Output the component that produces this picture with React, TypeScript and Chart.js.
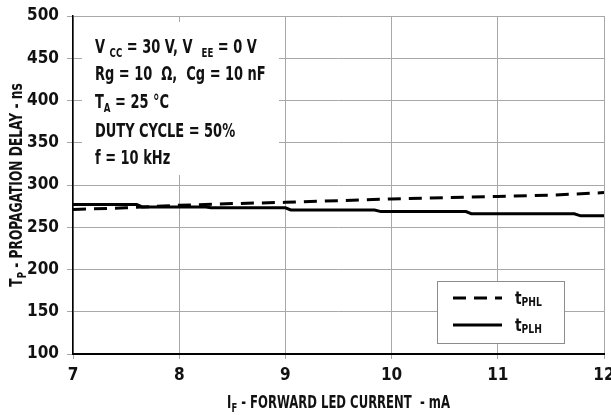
import React, { useEffect, useRef } from "react";
import { Chart, registerables } from "chart.js";

Chart.register(...registerables);

// ---- data ----
const phlCurrent = [7, 7.5, 8, 8.5, 9, 9.5, 10, 10.5, 11, 11.5, 12];
const tPHL = [271, 273, 276, 278, 279.5, 281.5, 283.5, 285, 286.5, 288, 291];

const plhCurrent = [7, 7.6, 7.65, 8.25, 8.3, 9.0, 9.05, 9.84, 9.9, 10.7, 10.75, 11.72, 11.78, 12];
const tPLH = [277, 277, 274, 274, 273, 273, 270.5, 270.5, 268.5, 268.5, 266, 266, 263.5, 263.5];

const xTicks = [7, 8, 9, 10, 11, 12];
const yTicks = [100, 150, 200, 250, 300, 350, 400, 450, 500];

const seriesNames = ["t", "t"];
const seriesSubs = ["PHL", "PLH"];

const conditionLines: { t: string; sub?: boolean }[][] = [
  [{ t: "V " }, { t: "CC", sub: true }, { t: " = 30 V, V  " }, { t: "EE", sub: true }, { t: " = 0 V" }],
  [{ t: "Rg = 10  Ω,  Cg = 10 nF" }],
  [{ t: "T" }, { t: "A", sub: true }, { t: " = 25 °C" }],
  [{ t: "DUTY CYCLE = 50%" }],
  [{ t: "f = 10 kHz" }],
];
const xTitle = [{ t: "I" }, { t: "F", sub: true }, { t: " - FORWARD LED CURRENT  - mA" }];
const yTitle = [{ t: "T" }, { t: "P", sub: true }, { t: " - PROPAGATION DELAY - ns" }];

const FONT = "'Liberation Sans Narrow', 'DejaVu Sans Condensed', 'Arial Narrow', sans-serif";

function drawRich(
  ctx: CanvasRenderingContext2D,
  x: number,
  baseline: number,
  parts: { t: string; sub?: boolean }[],
  size: number,
  subSize: number,
  subDrop: number,
  align: "left" | "center",
  sx: number
) {
  const mainFont = `bold ${size}px ${FONT}`;
  const subFont = `bold ${subSize}px ${FONT}`;
  let total = 0;
  for (const p of parts) {
    ctx.font = p.sub ? subFont : mainFont;
    total += ctx.measureText(p.t).width * sx;
  }
  let cx = align === "center" ? x - total / 2 : x;
  ctx.textAlign = "left";
  ctx.textBaseline = "alphabetic";
  for (const p of parts) {
    ctx.font = p.sub ? subFont : mainFont;
    ctx.save();
    ctx.translate(cx, baseline + (p.sub ? subDrop : 0));
    ctx.scale(sx, 1);
    ctx.fillText(p.t, 0, 0);
    ctx.restore();
    cx += ctx.measureText(p.t).width * sx;
  }
}

const decorPlugin = {
  id: "decor",
  afterDraw(chart: any) {
    const ctx: CanvasRenderingContext2D = chart.ctx;
    const area = chart.chartArea;
    ctx.save();

    // conditions box
    ctx.fillStyle = "#ffffff";
    ctx.fillRect(area.left + 9, area.top + 6, 197, 153);
    ctx.fillStyle = "#111";
    const baselines = [53, 80, 108, 137, 164];
    conditionLines.forEach((line, i) => {
      drawRich(ctx, area.left + 22, baselines[i], line, 19.5, 13, 4, "left", 0.74);
    });

    // legend box
    const lx = 437, ly = 281, lw = 127, lh = 62;
    ctx.fillStyle = "#ffffff";
    ctx.fillRect(lx, ly, lw, lh);
    ctx.strokeStyle = "#8c8c8c";
    ctx.lineWidth = 1;
    ctx.strokeRect(lx + 0.5, ly + 0.5, lw, lh);
    const rows = [298, 325];
    rows.forEach((ry, i) => {
      ctx.strokeStyle = "#000";
      ctx.lineWidth = 3;
      ctx.setLineDash(i === 0 ? [13, 8] : []);
      ctx.beginPath();
      ctx.moveTo(453, ry);
      ctx.lineTo(502, ry);
      ctx.stroke();
      ctx.setLineDash([]);
      ctx.fillStyle = "#111";
      drawRich(ctx, 515, ry + 6, [{ t: seriesNames[i] }, { t: seriesSubs[i], sub: true }], 18, 12, 2, "left", 0.85);
    });

    // axis titles
    drawRich(ctx, (area.left + area.right) / 2, 408, xTitle, 18, 13, 4, "center", 0.72);
    ctx.translate(16, (area.top + area.bottom) / 2);
    ctx.rotate(-Math.PI / 2);
    drawRich(ctx, 0, 6, yTitle, 17, 12, 4, "center", 0.8);
    ctx.restore();
  },
};

export default function App() {
  const ref = useRef<HTMLCanvasElement>(null);
  useEffect(() => {
    document.body.style.margin = "0";
    const chart = new Chart(ref.current!, {
      type: "line",
      data: {
        datasets: [
          {
            label: "tPHL",
            data: phlCurrent.map((x, i) => ({ x, y: tPHL[i] })),
            borderColor: "#000",
            borderWidth: 3,
            borderDash: [13, 8],
            pointRadius: 0,
            tension: 0,
          },
          {
            label: "tPLH",
            data: plhCurrent.map((x, i) => ({ x, y: tPLH[i] })),
            borderColor: "#000",
            borderWidth: 3,
            pointRadius: 0,
            tension: 0,
          },
        ],
      },
      options: {
        animation: false,
        responsive: true,
        maintainAspectRatio: false,
        layout: { padding: { top: 16, right: 7, left: 0, bottom: 0 } },
        plugins: { legend: { display: false }, tooltip: { enabled: false } },
        scales: {
          x: {
            type: "linear",
            min: 7,
            max: 12,
            afterBuildTicks: (s: any) => {
              s.ticks = xTicks.map((v) => ({ value: v }));
            },
            afterFit: (s: any) => {
              s.height = 61;
              s.paddingLeft = 0;
              s.paddingRight = 0;
            },
            grid: { color: "#a8a8a8", lineWidth: 1, tickLength: 5, tickColor: "#a8a8a8" },
            border: { color: "#000", width: 2 },
            ticks: {
              color: "#111",
              padding: 6,
              maxRotation: 0,
              font: { family: FONT, size: 17, weight: "bold" },
            },
          },
          y: {
            min: 100,
            max: 500,
            afterBuildTicks: (s: any) => {
              s.ticks = yTicks.map((v) => ({ value: v }));
            },
            afterFit: (s: any) => {
              s.width = 73;
              s.paddingTop = 0;
              s.paddingBottom = 0;
            },
            grid: { color: "#a8a8a8", lineWidth: 1, tickLength: 6, tickColor: "#a8a8a8" },
            border: { color: "#000", width: 1.5 },
            ticks: {
              color: "#111",
              padding: 8,
              font: { family: FONT, size: 17, weight: "bold" },
            },
          },
        },
      },
      plugins: [decorPlugin],
    });
    return () => chart.destroy();
  }, []);
  return (
    <div style={{ position: "absolute", left: 0, top: 0, width: 611, height: 415, background: "#fff" }}>
      <canvas ref={ref} />
    </div>
  );
}
